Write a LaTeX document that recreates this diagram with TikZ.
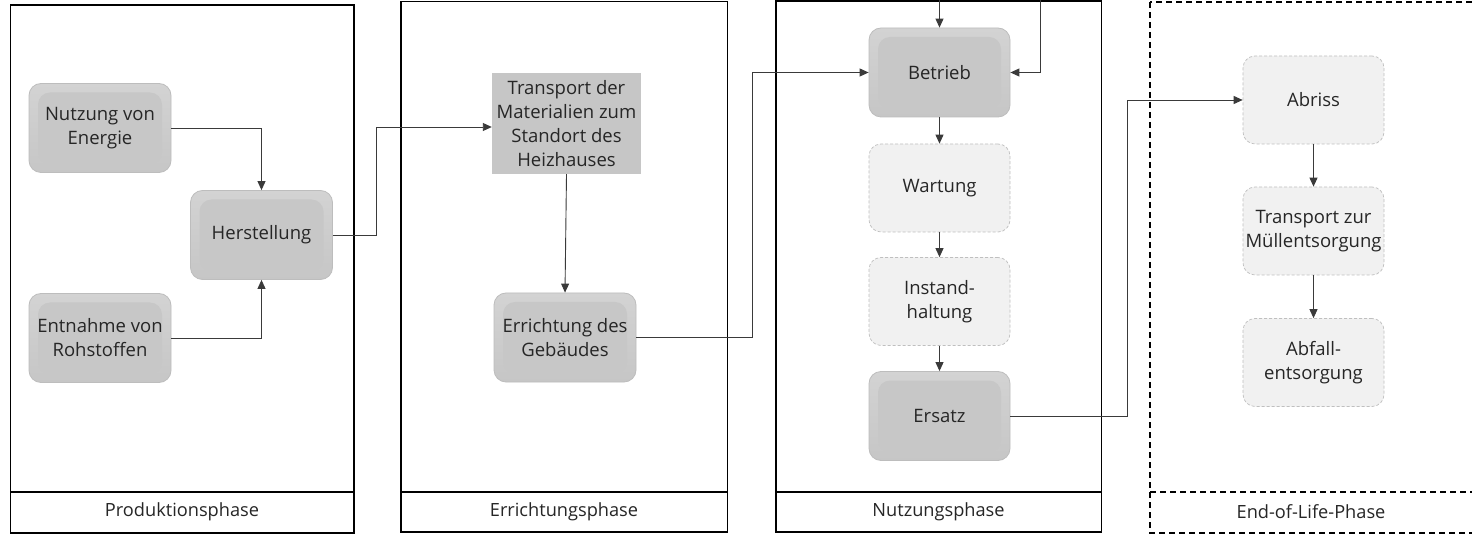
\documentclass[tikz,border=0pt]{standalone}
\usepackage{fontspec}
\setmainfont{Open Sans}
\usetikzlibrary{arrows.meta}
\definecolor{txt}{HTML}{262626}
\definecolor{boxtop}{HTML}{D3D3D3}
\definecolor{boxbot}{HTML}{C6C6C6}
\definecolor{boxin}{HTML}{C7C7C7}
\definecolor{boxline}{HTML}{BDBDBD}
\definecolor{lightfill}{HTML}{F1F1F1}
\definecolor{lightline}{HTML}{BFBFBF}
\definecolor{conn}{HTML}{3A3A3A}
\tikzset{
  every node/.style={font=\fontsize{18.5}{24}\selectfont, text=txt},
  graybox/.style={rounded corners=12pt, draw=boxline, line width=0.8pt,
    top color=boxtop, bottom color=boxbot,
    minimum width=142pt, minimum height=89pt, align=center, inner sep=2pt,
    path picture={\fill[boxin] ([shift={(9pt,-9pt)}]path picture bounding box.north west)
      rectangle ([shift={(-9pt,8pt)}]path picture bounding box.south east);}},
  plainbox/.style={fill=boxbot, draw=none, minimum width=149pt, minimum height=101pt,
    align=center, inner sep=2pt},
  lightbox/.style={rounded corners=12pt, draw=lightline, dashed, dash pattern=on 3pt off 2pt,
    line width=0.7pt, fill=lightfill,
    minimum width=142pt, minimum height=88pt, align=center, inner sep=2pt},
  panel/.style={draw=black, line width=1.3pt},
  dpanel/.style={draw=black, line width=1.3pt, dash pattern=on 6pt off 4pt},
  phaselabel/.style={anchor=center, font=\fontsize{18.2}{22}\selectfont},
  arr/.style={draw=conn, line width=0.9pt, -{Triangle[length=9pt,width=8pt]}},
}
\begin{document}
\begin{tikzpicture}[x=1pt, y=-1pt]
\useasboundingbox (0,0) rectangle (1472,534);
\fill[white] (0,0) rectangle (1472,534);

% phase panels
\draw[panel] (10.5,5) rectangle (354,533);
\draw[panel] (10.5,492) -- (354,492);
\draw[panel] (401,1.5) rectangle (727.5,532);
\draw[panel] (401,492) -- (727.5,492);
\draw[panel] (776,1) rectangle (1101.5,532);
\draw[panel] (776,492) -- (1101.5,492);
\draw[dpanel] (1150,2) rectangle (1480,533);
\draw[dpanel] (1150,492) -- (1480,492);

\node[phaselabel] (lp) at (182,512) {Produktionsphase};
\node[phaselabel] (le) at (564,512) {Errichtungsphase};
\node[phaselabel] (ln) at (938.5,512) {Nutzungsphase};
\node[phaselabel] (ll) at (1311,512) {End-of-Life-Phase};

% Produktionsphase
\node[graybox] (ne) at (100,128) {Nutzung von\\Energie};
\node[graybox] (hs) at (261.5,235) {Herstellung};
\node[graybox] (er) at (100,338) {Entnahme von\\Rohstoffen};

% Errichtungsphase
\node[plainbox] (tm) at (566.5,123.5) {Transport der\\Materialien zum\\Standort des\\Heizhauses};
\node[graybox] (eg) at (565,337.5) {Errichtung des\\Geb\"audes};

% Nutzungsphase
\node[graybox, minimum width=141pt] (bt) at (939.5,72.5) {Betrieb};
\node[lightbox, minimum width=141pt] (wt) at (939.5,188) {Wartung};
\node[lightbox, minimum width=141pt] (ih) at (939.5,301.5) {Instand-\\haltung};
\node[graybox, minimum width=141pt] (es) at (939.5,416) {Ersatz};

% End-of-Life-Phase
\node[lightbox, minimum width=141pt] (ab) at (1313.5,100) {Abriss};
\node[lightbox, minimum width=141pt] (tz) at (1313.5,231) {Transport zur\\M\"ullentsorgung};
\node[lightbox, minimum width=141pt] (af) at (1313.5,362.5) {Abfall-\\entsorgung};

% incoming lines at the top edge
\coordinate (tin1) at (939.5,-2);
\coordinate (tin2) at (1040,-2);

% connectors
\draw[arr] (ne.east) -| (hs.north);
\draw[arr] (er.east) -| (hs.south);
\draw[arr] (hs.east) -- ++(44pt,0) |- ([yshift=-3.5pt]tm.west);
\draw[arr] (tm.south) -- (eg.north);
\draw[arr] (eg.east) -- ++(116pt,0) |- (bt.west);
\draw[arr] (tin1) -- (bt.north);
\draw[arr] (tin2) |- (bt.east);
\draw[arr] (bt.south) -- (wt.north);
\draw[arr] (wt.south) -- (ih.north);
\draw[arr] (ih.south) -- (es.north);
\draw[arr] (es.east) -- ++(117pt,0) |- (ab.west);
\draw[arr] (ab.south) -- (tz.north);
\draw[arr] (tz.south) -- (af.north);
\end{tikzpicture}
\end{document}
